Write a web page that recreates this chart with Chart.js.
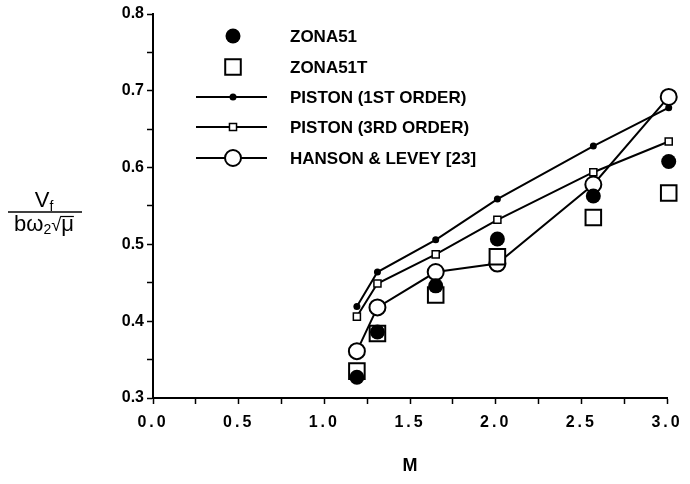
<!DOCTYPE html>
<html>
<head>
<meta charset="utf-8">
<script src="https://cdn.jsdelivr.net/npm/chart.js@4/dist/chart.umd.min.js"></script>
<style>
  html, body { margin: 0; padding: 0; background: #fff; }
  #wrap { width: 690px; height: 484px; }
</style>
</head>
<body>
<div id="wrap"><canvas id="c" width="690" height="484"></canvas></div>
<script>
// ---- data ----
const machNumbers = [1.19, 1.31, 1.65, 2.01, 2.57, 3.01];
const zona51      = [0.327, 0.386, 0.446, 0.507, 0.563, 0.608];
const zona51T     = [0.335, 0.384, 0.434, 0.484, 0.535, 0.567];
const piston1st   = [0.419, 0.464, 0.506, 0.559, 0.628, 0.678];
const piston3rd   = [0.406, 0.449, 0.487, 0.532, 0.594, 0.634];
const hansonLevey = [0.361, 0.418, 0.464, 0.475, 0.578, 0.692];
const seriesNames = ['ZONA51', 'ZONA51T', 'PISTON (1ST ORDER)', 'PISTON (3RD ORDER)', 'HANSON & LEVEY [23]'];
const xTitle = 'M';

const pts = (ys) => machNumbers.map((x, i) => ({ x: x, y: ys[i] }));
const FONT = "'Liberation Sans', Arial, Helvetica, sans-serif";
Chart.defaults.font.family = FONT;
Chart.defaults.color = '#000';

const legendItems = [
  { type: 'fcircle', r: 7.5 },
  { type: 'osquare', r: 11 },
  { type: 'line', marker: 'fcircle', r: 3.5 },
  { type: 'line', marker: 'osmall', r: 5 },
  { type: 'line', marker: 'ocircle', r: 8 }
];

function drawMarker(ctx, kind, x, y, r) {
  ctx.save();
  ctx.strokeStyle = '#000';
  ctx.fillStyle = '#000';
  if (kind === 'fcircle') {
    ctx.beginPath(); ctx.arc(x, y, r, 0, Math.PI * 2); ctx.fill();
  } else if (kind === 'ocircle') {
    ctx.lineWidth = 2;
    ctx.beginPath(); ctx.arc(x, y, r, 0, Math.PI * 2);
    ctx.fillStyle = '#fff'; ctx.fill(); ctx.stroke();
  } else if (kind === 'osquare' || kind === 'osmall') {
    const s = Math.SQRT1_2 * r;
    ctx.lineWidth = kind === 'osquare' ? 2 : 1.5;
    ctx.beginPath(); ctx.rect(x - s, y - s, 2 * s, 2 * s);
    ctx.fillStyle = '#fff'; ctx.fill(); ctx.stroke();
  }
  ctx.restore();
}

const extras = {
  id: 'extras',
  afterDatasetsDraw(chart) {
    // x tick labels are drawn after datasets (ticks.z = 1): spaced digits
    chart.ctx.letterSpacing = '3px';
  },
  afterDraw(chart) {
    const ctx = chart.ctx;
    ctx.letterSpacing = '0px';
    ctx.save();
    // legend
    const rows = [36, 67, 97, 127, 158];
    const mx = 233;
    ctx.font = 'bold 17px ' + FONT;
    ctx.textBaseline = 'middle';
    ctx.textAlign = 'left';
    ctx.fillStyle = '#000';
    legendItems.forEach((it, i) => {
      const y = rows[i];
      if (it.type === 'line') {
        ctx.strokeStyle = '#000'; ctx.lineWidth = 2;
        ctx.beginPath(); ctx.moveTo(196, y); ctx.lineTo(267, y); ctx.stroke();
        drawMarker(ctx, it.marker, mx, y, it.r);
      } else {
        drawMarker(ctx, it.type, mx, y, it.r);
      }
      ctx.fillStyle = '#000';
      ctx.fillText(seriesNames[i], 290, y + 1);
    });

    // y-axis title as a fraction  V_f / (b ω_2 √μ)
    const cx = 44;
    ctx.textBaseline = 'alphabetic';
    ctx.font = '22px ' + FONT;
    const wV = ctx.measureText('V').width;
    ctx.font = '14px ' + FONT;
    const wf = ctx.measureText('f').width;
    let x0 = cx - (wV + wf) / 2;
    ctx.font = '22px ' + FONT;
    ctx.fillText('V', x0, 207);
    ctx.font = '14px ' + FONT;
    ctx.fillText('f', x0 + wV, 211);
    // fraction bar
    ctx.strokeStyle = '#000'; ctx.lineWidth = 1.6;
    ctx.beginPath(); ctx.moveTo(8, 212); ctx.lineTo(82, 212); ctx.stroke();
    // denominator
    ctx.font = '22px ' + FONT;
    const wb = ctx.measureText('bω').width;
    ctx.font = '14px ' + FONT;
    const w2 = ctx.measureText('2').width;
    ctx.font = '18px ' + FONT;
    const wr = ctx.measureText('√').width;
    ctx.font = '22px ' + FONT;
    const wm = ctx.measureText('μ').width;
    x0 = cx - (wb + w2 + wr + wm) / 2;
    ctx.font = '22px ' + FONT;
    ctx.fillText('bω', x0, 231);
    ctx.font = '14px ' + FONT;
    ctx.fillText('2', x0 + wb, 234);
    ctx.font = '18px ' + FONT;
    ctx.fillText('√', x0 + wb + w2, 231);
    ctx.font = '22px ' + FONT;
    ctx.fillText('μ', x0 + wb + w2 + wr, 231);
    ctx.lineWidth = 1.2;
    ctx.beginPath();
    ctx.moveTo(x0 + wb + w2 + wr - 1, 216.5);
    ctx.lineTo(x0 + wb + w2 + wr + wm, 216.5);
    ctx.stroke();
    ctx.restore();
  }
};

const isMult = (v, step) => Math.abs(Math.round(v / step) - v / step) < 1e-6;

new Chart(document.getElementById('c'), {
  type: 'scatter',
  data: {
    datasets: [
      { label: seriesNames[0], data: pts(zona51), showLine: false,
        pointStyle: 'circle', pointRadius: 7.5, pointBackgroundColor: '#000',
        pointBorderColor: '#000', pointBorderWidth: 0, clip: false },
      { label: seriesNames[1], data: pts(zona51T), showLine: false,
        pointStyle: 'rect', pointRadius: 11, pointBackgroundColor: '#fff',
        pointBorderColor: '#000', pointBorderWidth: 2, clip: false },
      { label: seriesNames[2], data: pts(piston1st), showLine: true,
        borderColor: '#000', borderWidth: 2, pointStyle: 'circle', pointRadius: 3.5,
        pointBackgroundColor: '#000', pointBorderColor: '#000', pointBorderWidth: 0, clip: false },
      { label: seriesNames[3], data: pts(piston3rd), showLine: true,
        borderColor: '#000', borderWidth: 2, pointStyle: 'rect', pointRadius: 5,
        pointBackgroundColor: '#fff', pointBorderColor: '#000', pointBorderWidth: 1.5, clip: false },
      { label: seriesNames[4], data: pts(hansonLevey), showLine: true,
        borderColor: '#000', borderWidth: 2, pointStyle: 'circle', pointRadius: 8,
        pointBackgroundColor: '#fff', pointBorderColor: '#000', pointBorderWidth: 2, clip: false }
    ]
  },
  options: {
    responsive: false,
    animation: false,
    events: [],
    layout: { padding: { left: 0, top: 14, right: 23, bottom: 0 } },
    plugins: { legend: { display: false }, tooltip: { enabled: false } },
    scales: {
      x: {
        type: 'linear', min: 0, max: 3,
        afterFit: (s) => { s.height = 86; },
        border: { display: true, color: '#000', width: 2 },
        grid: { display: true, drawOnChartArea: false, drawTicks: true, tickLength: 6,
                tickColor: '#000', tickWidth: 1.5 },
        ticks: { stepSize: 0.25, padding: 9, z: 1,
                 font: { size: 16, weight: 'bold' }, color: '#000',
                 maxRotation: 0, autoSkip: false,
                 callback: (v) => isMult(v, 0.5) ? Number(v).toFixed(1) : '' },
        title: { display: true, text: xTitle, font: { size: 18, weight: 'bold' },
                 color: '#000', padding: { top: 14, bottom: 7 } }
      },
      y: {
        type: 'linear', min: 0.3, max: 0.8,
        afterFit: (s) => { s.width = 153; },
        border: { display: true, color: '#000', width: 2 },
        grid: { display: true, drawOnChartArea: false, drawTicks: true, tickLength: 6,
                tickColor: '#000', tickWidth: 1.5 },
        ticks: { stepSize: 0.05, padding: 3, autoSkip: false,
                 font: { size: 16, weight: 'bold' }, color: '#000',
                 callback: (v) => isMult(v, 0.1) ? Number(v).toFixed(1) : '' }
      }
    }
  },
  plugins: [extras]
});
</script>
</body>
</html>
